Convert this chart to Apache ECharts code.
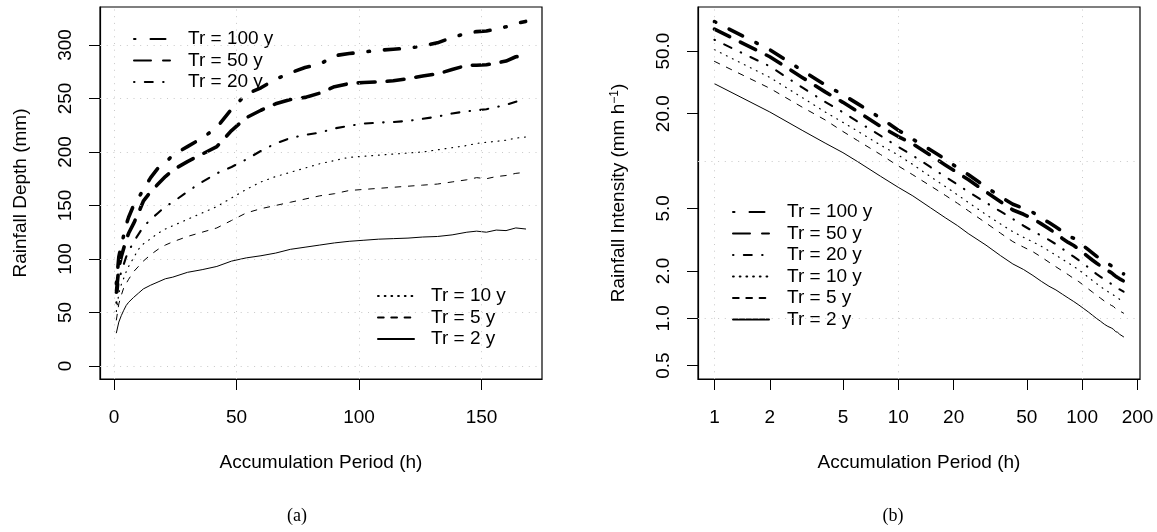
<!DOCTYPE html>
<html><head><meta charset="utf-8">
<script src="https://cdn.jsdelivr.net/npm/echarts@6/dist/echarts.min.js"></script>
<style>html,body{margin:0;padding:0;background:#fff}#c{width:1157px;height:532px}</style>
</head><body><div id="c"></div>
<script>
// Accumulation periods (h)
const durations = [1,2,3,4,5,6,8,10,12,15,18,21,24,30,36,42,48,54,60,66,72,78,84,90,96,102,108,114,120,126,132,138,144,148,152,156,160,164,168];
// Rainfall depth (mm) per return period
const depthTr100 = [77,102,113,122,132,139,150,157,165,176,185,190,197,205,213,223,240,254,260,268,274,279,282,290,292,293.5,295,296,297,299,302,307,311,312.5,313,315,317,320,322];
const depthTr50  = [69,92,102,110,118,124,133,143,154,163,170,177,183,191,198,205,220,232,239,245,249,251,255,261,264,265,265.5,266.5,268.5,271,273,277,281,281,281.5,283,285,289,290];
const depthTr20  = [59,80,88,95,102,107,116,123,130,137,143,149,153,163,172,180,186,193,201,208,213,216,218,222,224.5,226.5,227.5,228,229,231,233,236,238,239,240,242,244,247,248];
const depthTr10  = [51,68,76,82,88,93,101,109,114,119,124,128,131,137,143,149,157,165,172,177,181,185,189,192,195,196,197,198,199,200,202,204,206,208,209,210,211,213,214];
const depthTr5   = [43,58,66,73,77,81,88,93,98,104,109,113,116,121,125,129,136,143,147,150,153,156,159,161,164,165,166,167,168,169,170,172,174,176,175,177,178,180,181];
const depthTr2   = [31,41,47,52,56.5,59.5,64,68,72,75.5,78.5,81.5,83,87.5,90,93,98,101,103,105.5,109,111,113,115,116.5,117.5,118.5,119,119.5,120.5,121,122.5,125,126,125,127,126.5,129,128];
const seriesNames = ['Tr = 100 y','Tr = 50 y','Tr = 20 y','Tr = 10 y','Tr = 5 y','Tr = 2 y'];
// Tick labels / grid positions
const depthXTicks = [0,50,100,150];
const depthYTicks = [0,50,100,150,200,250,300];
const intensityXTicks = [1,2,5,10,20,50,100,200];
const intensityYTicks = [0.5,1,2,5,20,50];
const intensityXGrid = [1,10,100];
const intensityYGrid = [1,10];

const depths = [depthTr100, depthTr50, depthTr20, depthTr10, depthTr5, depthTr2];
const FONT = '"Liberation Sans", Arial, Helvetica, sans-serif';
const lineStyles = [
  {width:3.6, type:[1.5,15,15,15]},
  {width:3.6, type:[17,12]},
  {width:2.1, type:[0.5,10.3,8,10.3]},
  {width:1.2, type:[0.8,5.9]},
  {width:1, type:[5.7,7.6]},
  {width:1, type:'solid'}
];

const chart = echarts.init(document.getElementById('c'), null, {renderer:'canvas'});

function gridSeries(xi, yi, xs, ys) {
  return {type:'line', xAxisIndex:xi, yAxisIndex:yi, data:[], silent:true, z:1,
    markLine:{silent:true, symbol:['none','none'], label:{show:false}, animation:false,
      lineStyle:{color:'#c8c8c8', width:1, type:[1,5.7]},
      emphasis:{disabled:true},
      data:[...xs.map(v=>({xAxis:v})), ...ys.map(v=>({yAxis:v}))]}};
}

const series = [gridSeries(0,0,depthXTicks,depthYTicks), gridSeries(1,1,intensityXGrid,intensityYGrid)];
depths.forEach((dep, k) => {
  const ls = Object.assign({color:'#000', cap:'round', join:'round'}, lineStyles[k]);
  series.push({type:'line', name:seriesNames[k], xAxisIndex:0, yAxisIndex:0, z:2,
    data: durations.map((d,i)=>[d, dep[i]]), symbol:'none', showSymbol:false,
    lineStyle:ls, itemStyle:{color:'#000'}, silent:true, emphasis:{disabled:true}});
});
depths.forEach((dep, k) => {
  const ls = Object.assign({color:'#000', cap:'round', join:'round'}, lineStyles[k]);
  series.push({type:'line', name:seriesNames[k], xAxisIndex:1, yAxisIndex:1, z:2,
    data: durations.map((d,i)=>[d, dep[i]/d]), symbol:'none', showSymbol:false,
    lineStyle:ls, itemStyle:{color:'#000'}, silent:true, emphasis:{disabled:true}});
});

const txt = {fontSize:19, color:'#000', fontFamily:FONT};
function legendCfg(data, left, top, padL) {
  return {data, orient:'vertical', left, top, padding:0, itemWidth:36, itemHeight:14, itemGap:1.5,
    selectedMode:false,
    itemStyle:{opacity:0},
    textStyle:Object.assign({lineHeight:20, padding:[0,0,0,padL]}, txt)};
}
const axLine = {show:true, onZero:false, lineStyle:{color:'#000', width:1.2}};
const tick = vals => ({show:true, inside:false, length:11, customValues:vals, lineStyle:{color:'#000', width:1}});

const option = {
  animation:false,
  backgroundColor:'#fff',
  grid:[
    {left:100, top:7, width:442, height:372, show:true, borderColor:'#000', borderWidth:1.2, backgroundColor:'transparent'},
    {left:698, top:7, width:442, height:372, show:true, borderColor:'#000', borderWidth:1.2, backgroundColor:'transparent'}
  ],
  xAxis:[
    {type:'value', gridIndex:0, min:-5.68, max:174.68,
      axisLine:axLine, splitLine:{show:false},
      axisTick:tick(depthXTicks),
      axisLabel:Object.assign({customValues:depthXTicks, margin:29}, txt),
      name:'Accumulation Period (h)', nameLocation:'middle', nameGap:74, nameTextStyle:txt},
    {type:'log', gridIndex:1, logBase:10, min:0.814, max:206.4,
      axisLine:axLine, splitLine:{show:false}, minorTick:{show:false},
      axisTick:tick(intensityXTicks),
      axisLabel:Object.assign({customValues:intensityXTicks, margin:29, formatter:v=>String(Math.round(v))}, txt),
      name:'Accumulation Period (h)', nameLocation:'middle', nameGap:74, nameTextStyle:txt}
  ],
  yAxis:[
    {type:'value', gridIndex:0, min:-12.2, max:335.5,
      axisLine:axLine, splitLine:{show:false},
      axisTick:tick(depthYTicks),
      axisLabel:Object.assign({customValues:depthYTicks, margin:25, rotate:90}, txt),
      name:'Rainfall Depth (mm)', nameLocation:'middle', nameGap:70, nameTextStyle:txt},
    {type:'log', gridIndex:1, logBase:10, min:0.411, max:95.3,
      axisLine:axLine, splitLine:{show:false}, minorTick:{show:false},
      axisTick:tick(intensityYTicks),
      axisLabel:Object.assign({customValues:intensityYTicks, margin:24.5, rotate:90, formatter:v=>Number(v).toFixed(1)}, txt),
      name:'Rainfall Intensity (mm h{sup|\u22121})', nameLocation:'middle', nameGap:70,
      nameTextStyle:Object.assign({rich:{sup:{fontSize:12, color:'#000', fontFamily:FONT, verticalAlign:'top'}}}, txt)}
  ],
  legend:[
    legendCfg(seriesNames.slice(0,3), 133, 29, 13),
    legendCfg(seriesNames.slice(3), 377, 286, 12),
    legendCfg(seriesNames, 732, 202, 13)
  ],
  graphic:[
    {type:'text', x:297, y:516, style:{text:'(a)', align:'center', verticalAlign:'middle', font:'18px "Liberation Serif", "DejaVu Serif", serif', fill:'#000'}},
    {type:'text', x:893, y:516, style:{text:'(b)', align:'center', verticalAlign:'middle', font:'18px "Liberation Serif", "DejaVu Serif", serif', fill:'#000'}}
  ],
  series
};
chart.setOption(option);
</script>
</body></html>
